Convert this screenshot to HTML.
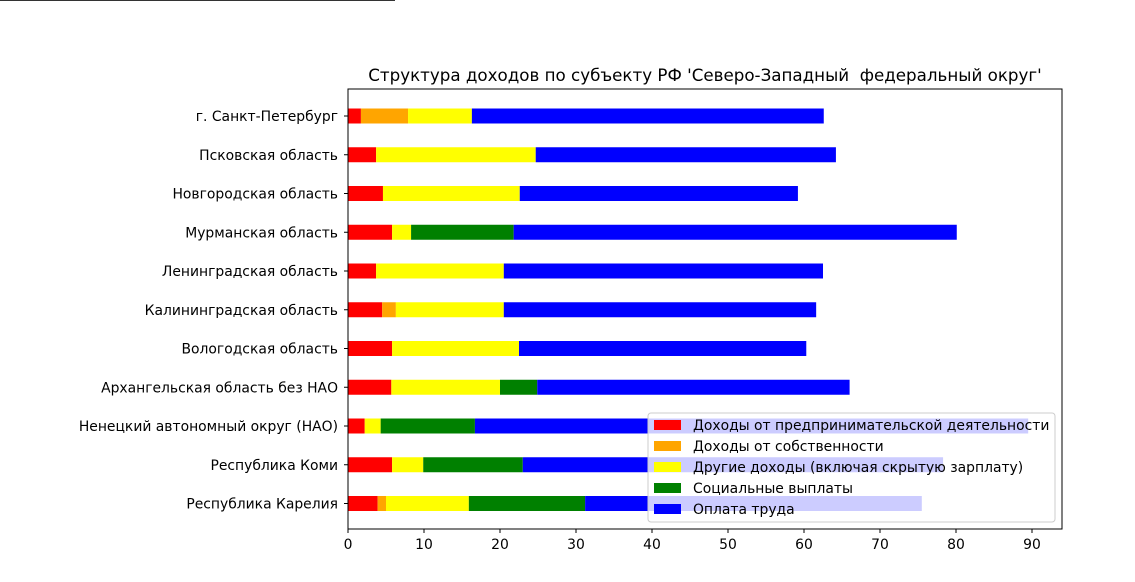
<!DOCTYPE html>
<html><head><meta charset="utf-8"><style>
body{margin:0;background:#fff;}
svg text{font-family:"DejaVu Sans","Liberation Sans",sans-serif;}
</style></head><body>
<svg id="chart" width="1135" height="577" xmlns="http://www.w3.org/2000/svg">
<line x1="0" y1="0.5" x2="395" y2="0.5" stroke="#333"/>
<text x="705" y="81" text-anchor="middle" font-size="16.7" xml:space="preserve">Структура доходов по субъекту РФ 'Северо-Западный  федеральный округ'</text>
<g id="bars"></g>
<g id="axes"></g>
<g id="legend"></g>
</svg>
<script>
const regions=["г. Санкт-Петербург","Псковская область","Новгородская область","Мурманская область","Ленинградская область","Калининградская область","Вологодская область","Архангельская область без НАО","Ненецкий автономный округ (НАО)","Республика Коми","Республика Карелия"];
const business=[1.7,3.7,4.6,5.8,3.7,4.5,5.8,5.7,2.2,5.8,3.9];
const property=[6.2,0,0,0,0,1.8,0,0,0,0,1.1];
const other=[8.4,21.0,18.0,2.5,16.8,14.2,16.7,14.3,2.1,4.1,10.9];
const social=[0,0,0,13.5,0,0,0,4.9,12.4,13.1,15.3];
const wages=[46.3,39.5,36.6,58.3,42.0,41.1,37.8,41.1,72.8,55.3,44.3];
const xTicks=[0,10,20,30,40,50,60,70,80,90];
const seriesNames=["Доходы от предпринимательской деятельности","Доходы от собственности","Другие доходы (включая скрытую зарплату)","Социальные выплаты","Оплата труда"];
const colors=["#ff0000","#ffa500","#ffff00","#008000","#0000ff"];
const series=[business,property,other,social,wages];
const NS="http://www.w3.org/2000/svg";
const x0=348,pxPerUnit=7.6,plotTop=89,plotBottom=529,plotRight=1062;
const xs=v=>x0+v*pxPerUnit;
const ys=i=>116+i*38.75;
function mk(tag,attrs,parent){const e=document.createElementNS(NS,tag);for(const k in attrs)e.setAttribute(k,attrs[k]);parent.appendChild(e);return e;}
const gb=document.getElementById('bars'),ga=document.getElementById('axes'),gl=document.getElementById('legend');
regions.forEach((r,i)=>{
  let cum=0;
  series.forEach((s,si)=>{
    const v=s[i];
    if(v>0){
      const rc=mk('rect',{x:xs(cum),y:ys(i)-7.5,width:v*pxPerUnit,height:15,fill:colors[si]},gb);
      
      
    }
    cum+=v;
  });
});
const frame=mk('rect',{x:x0,y:plotTop,width:plotRight-x0,height:plotBottom-plotTop,fill:'none',stroke:'#000','stroke-width':1},ga);


xTicks.forEach(t=>{
  mk('line',{x1:xs(t),y1:plotBottom,x2:xs(t),y2:plotBottom+4,stroke:'#000'},ga);
  const tx=mk('text',{x:xs(t),y:plotBottom+20,'text-anchor':'middle','font-size':13.9},ga);
  tx.textContent=t;
  
  
});
regions.forEach((r,i)=>{
  mk('line',{x1:x0-4,y1:ys(i),x2:x0,y2:ys(i),stroke:'#000'},ga);
  const tx=mk('text',{x:x0-10,y:ys(i)+5,'text-anchor':'end','font-size':13.9},ga);
  tx.textContent=r;
  
  
});
const lb=mk('rect',{x:648,y:413,width:407,height:109,rx:3,fill:'#fff','fill-opacity':0.8,stroke:'#ccc'},gl);


seriesNames.forEach((n,k)=>{
  const y=425+k*21;
  const p=mk('rect',{x:654,y:y-5,width:27,height:10,fill:colors[k]},gl);
  
  
  const t=mk('text',{x:693,y:y+5,'font-size':13.9},gl);
  t.textContent=n;
  
  
});
</script>
</body></html>
